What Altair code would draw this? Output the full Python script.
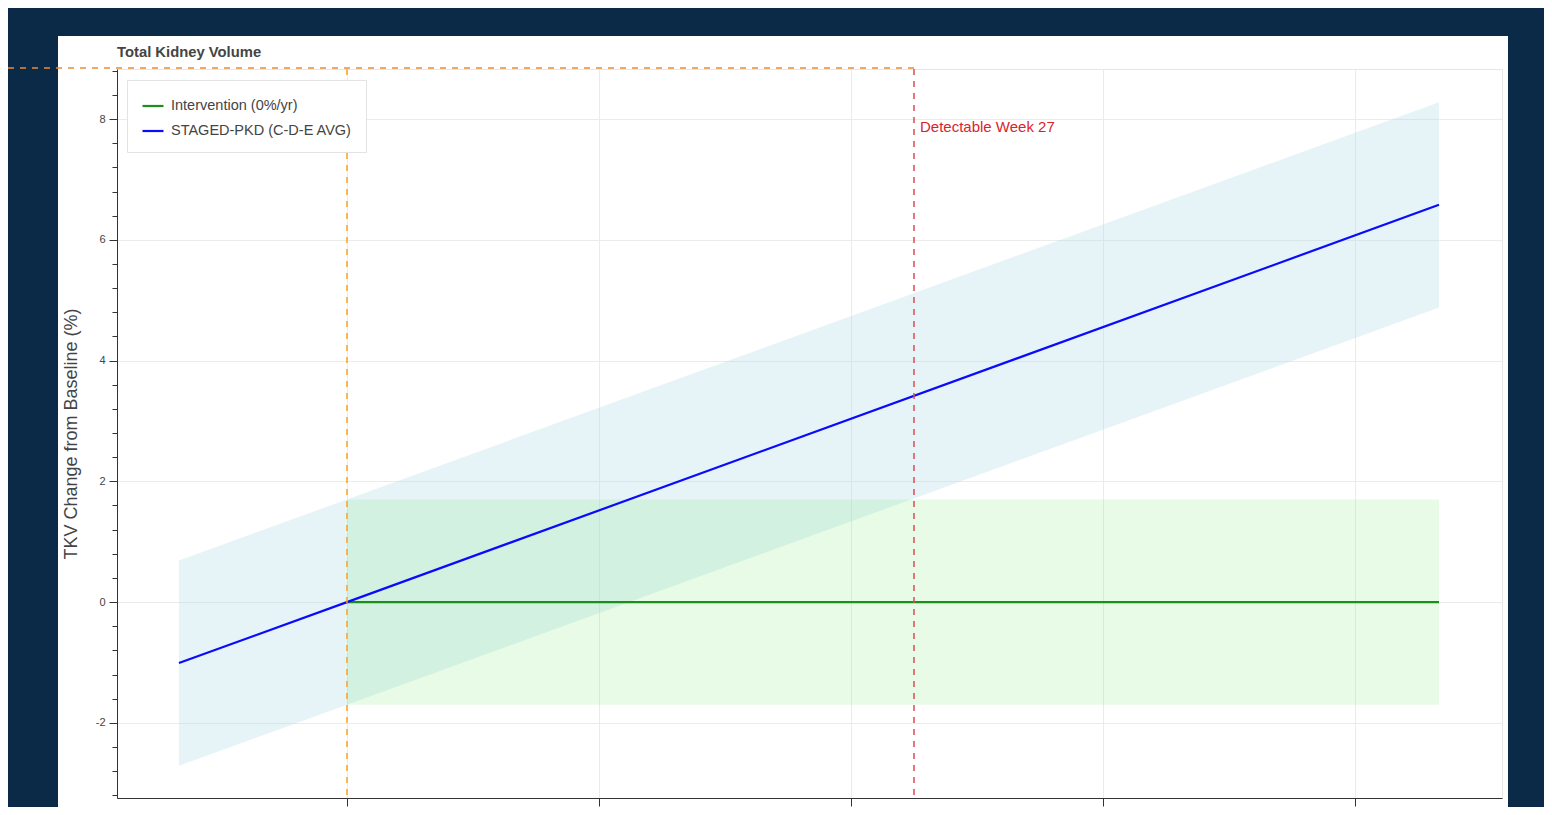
import altair as alt
import pandas as pd

# ---- data ----
blue_weeks = [-8, 0, 52]
blue_vals = [-1.01, 0.0, 6.58]
blue_lo = [-2.71, -1.7, 4.88]
blue_hi = [0.69, 1.7, 8.28]

green_weeks = [0, 52]
green_vals = [0.0, 0.0]
green_lo = [-1.7, -1.7]
green_hi = [1.7, 1.7]

series_names = ["Intervention (0%/yr)", "STAGED-PKD (C-D-E AVG)"]
series_colors = ["#1a8f1a", "#0a0aff"]

chart_title = ["Total Kidney Volume"]
y_title = "TKV Change from Baseline (%)"

baseline_week = [0]
detect_week = [27]
detect_label = ["Detectable Week 27"]
detect_label_y = [7.87]

x_ticks = [0, 12, 24, 36, 48]
y_ticks = [-3.2, -2.8, -2.4, -2.0, -1.6, -1.2, -0.8, -0.4, 0.0, 0.4, 0.8, 1.2, 1.6,
           2.0, 2.4, 2.8, 3.2, 3.6, 4.0, 4.4, 4.8, 5.2, 5.6, 6.0, 6.4, 6.8, 7.2,
           7.6, 8.0, 8.4, 8.8]

x_domain = [-10.95, 55]
y_domain = [-3.245, 8.83]

W, H = 1385, 729
NAVY = "#0a2a47"
FONT = "Liberation Sans"

blue_df = pd.DataFrame({"week": blue_weeks, "val": blue_vals, "lo": blue_lo, "hi": blue_hi,
                        "series": series_names[1]})
green_df = pd.DataFrame({"week": green_weeks, "val": green_vals, "lo": green_lo, "hi": green_hi,
                         "series": series_names[0]})
lines_df = pd.concat([green_df, blue_df], ignore_index=True)

xs = alt.Scale(domain=x_domain, nice=False, zero=False)
ys = alt.Scale(domain=y_domain, nice=False, zero=False)

x_axis = alt.Axis(values=x_ticks, title=None, tickSize=8, labelFontSize=11, labelColor="#444",
                  labelPadding=2, domainColor="#333", tickColor="#333", gridColor="#ebebeb")
y_axis = alt.Axis(
    values=y_ticks,
    tickCount=60,
    labelOverlap=False,
    title=y_title,
    titleFontSize=18, titleFontWeight="normal", titleColor="#444",
    titleX=-46, titleY=H / 2, titleAngle=270, titleAlign="center", titleBaseline="middle",
    labelExpr="datum.value % 2 === 0 ? ('' + datum.value) : ''",
    labelFontSize=11, labelColor="#444", labelPadding=4,
    tickSize={"condition": {"test": "datum.value % 2 === 0", "value": 8}, "value": 5},
    gridOpacity={"condition": {"test": "datum.value % 2 === 0", "value": 1}, "value": 0},
    gridColor="#ebebeb", domainColor="#333", tickColor="#333",
)

X = alt.X("week:Q", scale=xs, axis=x_axis)

blue_band = alt.Chart(blue_df).mark_area(color="#add8e6", opacity=0.3).encode(
    x=X, y=alt.Y("lo:Q", scale=ys, axis=y_axis), y2="hi:Q")
green_band = alt.Chart(green_df).mark_area(color="#90ee90", opacity=0.22).encode(
    x=X, y=alt.Y("lo:Q", scale=ys), y2="hi:Q")

lines = alt.Chart(lines_df).mark_line(strokeWidth=2.2).encode(
    x=X,
    y=alt.Y("val:Q", scale=ys),
    color=alt.Color("series:N", scale=alt.Scale(domain=series_names, range=series_colors),
                    legend=alt.Legend(title=None, orient="none", legendX=10, legendY=11,
                                      strokeColor="#e3e3e3", fillColor="white", padding=14,
                                      symbolType="stroke", symbolSize=441, symbolStrokeWidth=2.2,
                                      labelFontSize=14.5, labelColor="#444", labelOffset=6,
                                      labelLimit=400, rowPadding=6, labelFont=FONT)),
    detail="series:N",
)

base_rule = alt.Chart(pd.DataFrame({"week": baseline_week})).mark_rule(
    color="#f5a623", strokeWidth=1.5, strokeDash=[6, 6]).encode(x=alt.X("week:Q", scale=xs))
detect_rule = alt.Chart(pd.DataFrame({"week": detect_week})).mark_rule(
    color="#e04a4f", strokeWidth=1.5, strokeDash=[6, 6]).encode(x=alt.X("week:Q", scale=xs))
detect_text = alt.Chart(pd.DataFrame({"week": detect_week, "y": detect_label_y,
                                      "t": detect_label})).mark_text(
    align="left", baseline="middle", dx=6, fontSize=15, color="#d9242b", font=FONT).encode(
    x=alt.X("week:Q", scale=xs), y=alt.Y("y:Q", scale=ys), text="t:N")

# navy page frame around the white panel
frame_left = alt.Chart(pd.DataFrame({"a": [0]})).mark_rect(color=NAVY).encode(
    x=alt.value(-109), x2=alt.value(-59), y=alt.value(-61), y2=alt.value(740))
frame_right = alt.Chart(pd.DataFrame({"a": [0]})).mark_rect(color=NAVY).encode(
    x=alt.value(1391), x2=alt.value(1430), y=alt.value(-61), y2=alt.value(740))
frame_top = alt.Chart(pd.DataFrame({"a": [0]})).mark_rect(color=NAVY).encode(
    x=alt.value(-109), x2=alt.value(1430), y=alt.value(-61), y2=alt.value(-33))

title_text = alt.Chart(pd.DataFrame({"t": chart_title})).mark_text(
    align="left", baseline="alphabetic", fontSize=14.8, fontWeight="bold", color="#444",
    font=FONT).encode(x=alt.value(0), y=alt.value(-12), text="t:N")

hover_rule = alt.Chart(pd.DataFrame({"week": detect_week})).mark_rule(
    color="#ee8a35", strokeWidth=1.5, strokeDash=[6, 6]).encode(
    x=alt.X("week:Q", scale=xs), x2=alt.value(-109), y=alt.value(-1))

chart = alt.layer(
    blue_band, green_band, lines, base_rule, detect_rule, detect_text,
    frame_left, frame_right, frame_top, title_text, hover_rule,
).properties(
    width=W, height=H,
    autosize=alt.AutoSizeParams(type="none"),
    padding={"left": 109, "top": 61, "right": 42, "bottom": 9},
    background="white",
).configure(font=FONT).configure_view(stroke="#e6e6e6", strokeWidth=1)

chart.save("out.html", embed_options={"renderer": "svg", "actions": False})
